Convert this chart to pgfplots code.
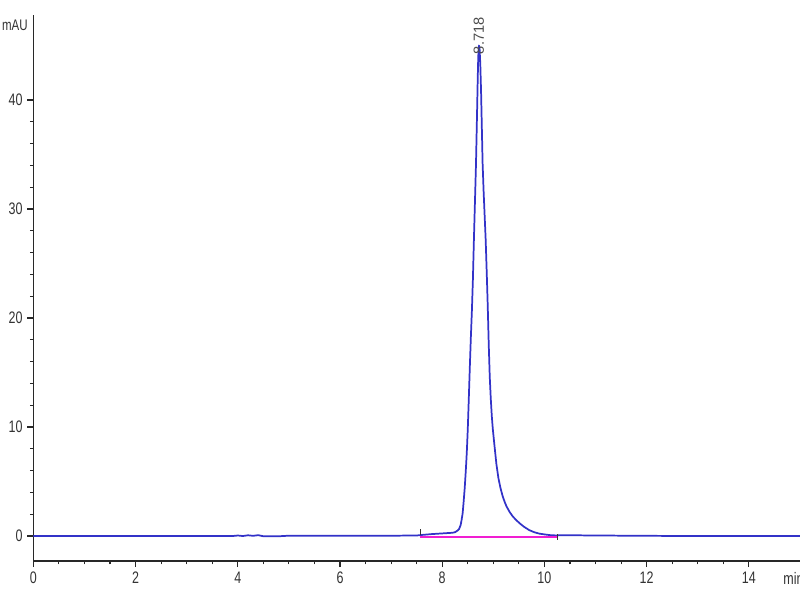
\documentclass[border=0pt]{standalone}
\usepackage{pgfplots}
\pgfplotsset{compat=1.18}
\usepackage{fontspec}
\setmainfont{Liberation Sans}[FakeStretch=0.75]
\newfontfamily\peakfont{Liberation Sans}
\definecolor{trace}{RGB}{50,50,200}
\definecolor{basel}{RGB}{240,30,210}
\definecolor{axisgray}{RGB}{40,40,40}

\begin{document}
\begin{tikzpicture}
\begin{axis}[
  at={(0,0)}, anchor=south west,
  scale only axis,
  width=575pt, height=409.5pt,
  xmin=0, xmax=15, ymin=-2.29, ymax=47.8,
  axis lines*=left,
  axis line style={axisgray, line width=1pt},
  xtick={0,2,...,14}, ytick={0,10,...,40},
  minor x tick num=3, minor y tick num=4,
  tick align=outside,
  major tick length=4.5pt, minor tick length=2.5pt,
  tick style={axisgray, line width=0.9pt},
  every tick label/.append style={font=\fontsize{12.5}{14}\selectfont, text=black!80},
  /pgf/number format/assume math mode=true,
  clip=false,
]
% chromatogram trace
\addplot[trace, line width=1.3pt, line join=round] coordinates {
  (0,0) (1,0) (2,0) (3,0) (3.9,0) (4.0,0.05) (4.1,0) (4.2,0.07) (4.3,0.02)
  (4.4,0.08) (4.5,-0.02) (4.8,-0.02) (5.0,0.03) (6,0.03) (7,0.03) (7.5,0.05)
  (7.6,0.1) (7.8,0.18) (8.0,0.24) (8.2,0.3) (8.25,0.35)
  (8.30,0.5) (8.33,0.65) (8.36,1.0) (8.38,1.5) (8.40,2.1) (8.42,3.2)
  (8.44,4.4) (8.46,5.9) (8.48,7.6) (8.50,9.8) (8.52,12.6) (8.54,15.5)
  (8.56,18.2) (8.58,20.6) (8.60,23.5) (8.62,27.2) (8.64,30.6) (8.66,34.0)
  (8.68,38.5) (8.695,42.0) (8.705,44.0) (8.718,45.0) (8.73,44.8)
  (8.745,43.3) (8.76,40.8) (8.775,37.5) (8.79,34.2) (8.81,31.6) (8.83,29.4)
  (8.85,27.2) (8.87,24.3) (8.89,21.2) (8.91,17.6) (8.93,14.6) (8.95,12.6)
  (8.97,11.0) (8.99,9.8) (9.02,8.4) (9.06,6.6) (9.10,5.3) (9.14,4.4)
  (9.18,3.7) (9.22,3.15) (9.26,2.7) (9.32,2.2) (9.38,1.8) (9.45,1.45)
  (9.52,1.15) (9.60,0.85) (9.70,0.55) (9.80,0.35) (9.90,0.22) (10.0,0.15)
  (10.12,0.08) (10.25,0.05) (10.3,0.08) (11,0.05) (12,0.02)
  (13,0) (14,0) (15,0)
};
% integration baseline
\addplot[basel, line width=1.2pt] coordinates {(7.57,-0.08) (10.25,-0.08)};
% peak start/end markers
\addplot[black!80, line width=0.9pt] coordinates {(7.57,0.1) (7.57,0.65)};
\addplot[black!80, line width=0.9pt] coordinates {(10.25,0.15) (10.25,-0.4)};
% labels
\node[font=\fontsize{11.5}{13}\selectfont, text=black!80] at (axis cs:-0.36,46.9) {mAU};
\node[font=\fontsize{12.5}{14}\selectfont, text=black!80, anchor=west, inner sep=0pt] at (axis cs:14.67,-3.85) {min};
\node[font=\peakfont\fontsize{11}{13}\selectfont, text=black!70, rotate=90] at (axis cs:8.718,45.9) {8.718};
\end{axis}
\pgfresetboundingbox
\useasboundingbox (-25pt,-29.25pt) rectangle (575pt,420.75pt);
\end{tikzpicture}
\end{document}
